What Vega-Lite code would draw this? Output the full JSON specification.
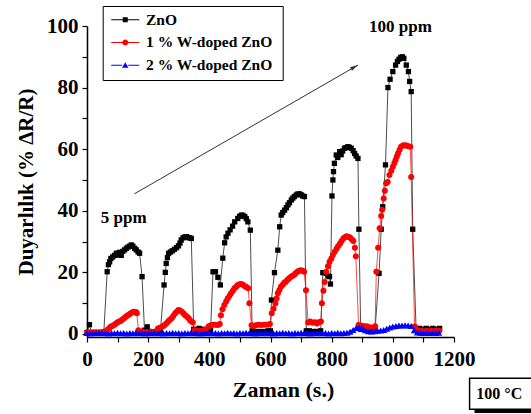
{
"$schema":"https://vega.github.io/schema/vega-lite/v6.json",
"width":367,"height":311,
"autosize":{"type":"none"},
"padding":{"left":87,"top":26,"right":77,"bottom":77},
"background":"white",
"config":{"view":{"stroke":null},"font":"Liberation Serif"},
"datasets":{
"shadows":[{"x":65,"x2":641,"y":105.2,"y2":82.5},{"x":1267,"x2":1500,"y":-16,"y2":-25.7}],
"boxes":[{"x":1251,"x2":1500,"y":-14.4,"y2":-24.5}],
"arrow":[{"x":155,"y":45.5,"x2":886,"y2":87.3}],
"arrowhead":[{"x":886,"y":87.3}],
"labels":[{"x":922,"y":99.8,"label":"100 ppm"},{"x":45,"y":37.6,"label":"5 ppm"}],
"temp":[{"x":1273,"y":-19.6,"label":"100 °C"}],
"legendkeys":[{"x":0,"y":0,"k":"ZnO"},{"x":0,"y":0,"k":"1  % W-doped ZnO"},{"x":0,"y":0,"k":"2  % W-doped ZnO"}],
"main":[
{"x":0,"y":0.5,"s":"ZnO"},{"x":8,"y":3,"s":"ZnO"},{"x":15,"y":0.5,"s":"ZnO"},{"x":25,"y":0.5,"s":"ZnO"},{"x":35,"y":0.5,"s":"ZnO"},{"x":45,"y":0.5,"s":"ZnO"},{"x":55,"y":0.6,"s":"ZnO"},
{"x":66,"y":20.2,"s":"ZnO"},{"x":70,"y":22.5,"s":"ZnO"},{"x":74,"y":23.4,"s":"ZnO"},{"x":78,"y":24.5,"s":"ZnO"},{"x":84,"y":25,"s":"ZnO"},{"x":90,"y":25.5,"s":"ZnO"},{"x":96,"y":26.2,"s":"ZnO"},{"x":101,"y":25.6,"s":"ZnO"},{"x":106,"y":26.5,"s":"ZnO"},{"x":112,"y":25.5,"s":"ZnO"},{"x":117,"y":26.8,"s":"ZnO"},{"x":123,"y":27.3,"s":"ZnO"},{"x":129,"y":27.8,"s":"ZnO"},{"x":134,"y":28.2,"s":"ZnO"},{"x":140,"y":28.5,"s":"ZnO"},{"x":145,"y":28.9,"s":"ZnO"},{"x":150,"y":28.5,"s":"ZnO"},{"x":156,"y":27.8,"s":"ZnO"},{"x":161,"y":27.3,"s":"ZnO"},{"x":167,"y":26.6,"s":"ZnO"},{"x":172,"y":26.2,"s":"ZnO"},{"x":180,"y":18.6,"s":"ZnO"},{"x":188,"y":1.2,"s":"ZnO"},{"x":197,"y":2.3,"s":"ZnO"},{"x":205,"y":0.8,"s":"ZnO"},{"x":215,"y":0.6,"s":"ZnO"},{"x":228,"y":0.6,"s":"ZnO"},{"x":240,"y":0.8,"s":"ZnO"},
{"x":252,"y":15.9,"s":"ZnO"},{"x":256,"y":20,"s":"ZnO"},{"x":259,"y":22.9,"s":"ZnO"},{"x":263,"y":24.8,"s":"ZnO"},{"x":267,"y":26.2,"s":"ZnO"},{"x":273,"y":26.6,"s":"ZnO"},{"x":279,"y":27,"s":"ZnO"},{"x":286,"y":27.5,"s":"ZnO"},{"x":293,"y":28,"s":"ZnO"},{"x":299,"y":28.6,"s":"ZnO"},{"x":304,"y":29.5,"s":"ZnO"},{"x":308,"y":30.5,"s":"ZnO"},{"x":314,"y":31.2,"s":"ZnO"},{"x":320,"y":31.5,"s":"ZnO"},{"x":325,"y":31.6,"s":"ZnO"},{"x":331,"y":31.3,"s":"ZnO"},{"x":336,"y":31.2,"s":"ZnO"},{"x":341,"y":31,"s":"ZnO"},{"x":349,"y":1.5,"s":"ZnO"},{"x":358,"y":1.2,"s":"ZnO"},{"x":366,"y":1.8,"s":"ZnO"},{"x":375,"y":1.5,"s":"ZnO"},{"x":385,"y":1,"s":"ZnO"},{"x":395,"y":1,"s":"ZnO"},{"x":404,"y":1.2,"s":"ZnO"},
{"x":412,"y":20.2,"s":"ZnO"},{"x":420,"y":20.2,"s":"ZnO"},{"x":428,"y":18.4,"s":"ZnO"},{"x":436,"y":15.9,"s":"ZnO"},{"x":444,"y":24.6,"s":"ZnO"},{"x":450,"y":29.6,"s":"ZnO"},{"x":455,"y":31.5,"s":"ZnO"},{"x":461,"y":32.7,"s":"ZnO"},{"x":468,"y":33.8,"s":"ZnO"},{"x":476,"y":35,"s":"ZnO"},{"x":483,"y":36.4,"s":"ZnO"},{"x":493,"y":37.5,"s":"ZnO"},{"x":499,"y":38.2,"s":"ZnO"},{"x":505,"y":38.6,"s":"ZnO"},{"x":510,"y":38.5,"s":"ZnO"},{"x":516,"y":38.1,"s":"ZnO"},{"x":521,"y":37.4,"s":"ZnO"},{"x":526,"y":36.4,"s":"ZnO"},{"x":534,"y":33.7,"s":"ZnO"},{"x":540,"y":1,"s":"ZnO"},{"x":550,"y":0.8,"s":"ZnO"},{"x":565,"y":0.8,"s":"ZnO"},{"x":580,"y":0.8,"s":"ZnO"},{"x":592,"y":1,"s":"ZnO"},{"x":600,"y":1,"s":"ZnO"},
{"x":603,"y":11,"s":"ZnO"},{"x":613,"y":19.9,"s":"ZnO"},{"x":624,"y":27.2,"s":"ZnO"},{"x":630,"y":34.8,"s":"ZnO"},{"x":635,"y":38.6,"s":"ZnO"},{"x":640,"y":39.4,"s":"ZnO"},{"x":646,"y":40.2,"s":"ZnO"},{"x":652,"y":41,"s":"ZnO"},{"x":657,"y":41.9,"s":"ZnO"},{"x":662,"y":42.6,"s":"ZnO"},{"x":668,"y":43.5,"s":"ZnO"},{"x":673,"y":44.1,"s":"ZnO"},{"x":678,"y":44.6,"s":"ZnO"},{"x":684,"y":45.1,"s":"ZnO"},{"x":689,"y":45.4,"s":"ZnO"},{"x":694,"y":45.5,"s":"ZnO"},{"x":700,"y":45.2,"s":"ZnO"},{"x":705,"y":44.8,"s":"ZnO"},{"x":711,"y":44.6,"s":"ZnO"},{"x":717,"y":1,"s":"ZnO"},{"x":727,"y":1,"s":"ZnO"},{"x":740,"y":0.8,"s":"ZnO"},{"x":752,"y":0.8,"s":"ZnO"},{"x":764,"y":1,"s":"ZnO"},
{"x":771,"y":19.9,"s":"ZnO"},{"x":782,"y":19.7,"s":"ZnO"},{"x":788,"y":18.8,"s":"ZnO"},{"x":793,"y":18.6,"s":"ZnO"},{"x":796,"y":16.2,"s":"ZnO"},{"x":801,"y":44.8,"s":"ZnO"},{"x":804,"y":50,"s":"ZnO"},{"x":806,"y":52.7,"s":"ZnO"},{"x":809,"y":55.4,"s":"ZnO"},{"x":815,"y":58.1,"s":"ZnO"},{"x":820,"y":57.3,"s":"ZnO"},{"x":826,"y":59.2,"s":"ZnO"},{"x":831,"y":58.2,"s":"ZnO"},{"x":836,"y":59.4,"s":"ZnO"},{"x":842,"y":60.3,"s":"ZnO"},{"x":847,"y":60.5,"s":"ZnO"},{"x":853,"y":60.8,"s":"ZnO"},{"x":858,"y":60.6,"s":"ZnO"},{"x":864,"y":60.3,"s":"ZnO"},{"x":870,"y":59.5,"s":"ZnO"},{"x":875,"y":58.6,"s":"ZnO"},{"x":880,"y":57.8,"s":"ZnO"},{"x":886,"y":57,"s":"ZnO"},{"x":889,"y":34,"s":"ZnO"},{"x":895,"y":1.5,"s":"ZnO"},{"x":905,"y":1.5,"s":"ZnO"},{"x":915,"y":1.2,"s":"ZnO"},{"x":930,"y":1.2,"s":"ZnO"},{"x":942,"y":1.5,"s":"ZnO"},
{"x":955,"y":19.7,"s":"ZnO"},{"x":962,"y":34,"s":"ZnO"},{"x":967,"y":41.3,"s":"ZnO"},{"x":976,"y":54.9,"s":"ZnO"},{"x":984,"y":80,"s":"ZnO"},{"x":991,"y":82.7,"s":"ZnO"},{"x":1000,"y":85.2,"s":"ZnO"},{"x":1009,"y":87.3,"s":"ZnO"},{"x":1015,"y":88.5,"s":"ZnO"},{"x":1020,"y":89.2,"s":"ZnO"},{"x":1026,"y":89.8,"s":"ZnO"},{"x":1031,"y":90,"s":"ZnO"},{"x":1036,"y":89.5,"s":"ZnO"},{"x":1044,"y":87.3,"s":"ZnO"},{"x":1051,"y":85.2,"s":"ZnO"},{"x":1055,"y":82,"s":"ZnO"},{"x":1060,"y":78.7,"s":"ZnO"},{"x":1065,"y":34,"s":"ZnO"},{"x":1076,"y":1.8,"s":"ZnO"},{"x":1087,"y":1.8,"s":"ZnO"},{"x":1098,"y":1.5,"s":"ZnO"},{"x":1109,"y":1.8,"s":"ZnO"},{"x":1120,"y":1.5,"s":"ZnO"},{"x":1131,"y":1.8,"s":"ZnO"},{"x":1142,"y":1.5,"s":"ZnO"},{"x":1153,"y":1.8,"s":"ZnO"},
{"x":0,"y":0.5,"s":"1  % W-doped ZnO"},{"x":15,"y":0.4,"s":"1  % W-doped ZnO"},{"x":30,"y":0.5,"s":"1  % W-doped ZnO"},{"x":45,"y":0.5,"s":"1  % W-doped ZnO"},{"x":58,"y":0.8,"s":"1  % W-doped ZnO"},
{"x":66,"y":1.3,"s":"1  % W-doped ZnO"},{"x":72,"y":1.8,"s":"1  % W-doped ZnO"},{"x":77,"y":2.3,"s":"1  % W-doped ZnO"},{"x":83,"y":2.6,"s":"1  % W-doped ZnO"},{"x":88,"y":2.9,"s":"1  % W-doped ZnO"},{"x":94,"y":3.3,"s":"1  % W-doped ZnO"},{"x":99,"y":3.7,"s":"1  % W-doped ZnO"},{"x":105,"y":4,"s":"1  % W-doped ZnO"},{"x":110,"y":4.2,"s":"1  % W-doped ZnO"},{"x":116,"y":4.7,"s":"1  % W-doped ZnO"},{"x":121,"y":5.1,"s":"1  % W-doped ZnO"},{"x":127,"y":5.6,"s":"1  % W-doped ZnO"},{"x":132,"y":6,"s":"1  % W-doped ZnO"},{"x":138,"y":6.3,"s":"1  % W-doped ZnO"},{"x":143,"y":6.7,"s":"1  % W-doped ZnO"},{"x":149,"y":7,"s":"1  % W-doped ZnO"},{"x":154,"y":7.2,"s":"1  % W-doped ZnO"},{"x":160,"y":7.1,"s":"1  % W-doped ZnO"},{"x":163,"y":6.7,"s":"1  % W-doped ZnO"},{"x":168,"y":1.2,"s":"1  % W-doped ZnO"},{"x":180,"y":0.8,"s":"1  % W-doped ZnO"},{"x":195,"y":0.6,"s":"1  % W-doped ZnO"},{"x":210,"y":0.6,"s":"1  % W-doped ZnO"},{"x":222,"y":0.8,"s":"1  % W-doped ZnO"},
{"x":232,"y":1.8,"s":"1  % W-doped ZnO"},{"x":238,"y":2,"s":"1  % W-doped ZnO"},{"x":243,"y":2.2,"s":"1  % W-doped ZnO"},{"x":248,"y":2.5,"s":"1  % W-doped ZnO"},{"x":254,"y":2.9,"s":"1  % W-doped ZnO"},{"x":260,"y":3.5,"s":"1  % W-doped ZnO"},{"x":266,"y":4.1,"s":"1  % W-doped ZnO"},{"x":271,"y":4.6,"s":"1  % W-doped ZnO"},{"x":277,"y":5.1,"s":"1  % W-doped ZnO"},{"x":282,"y":5.8,"s":"1  % W-doped ZnO"},{"x":288,"y":6.6,"s":"1  % W-doped ZnO"},{"x":293,"y":7.2,"s":"1  % W-doped ZnO"},{"x":299,"y":7.8,"s":"1  % W-doped ZnO"},{"x":304,"y":7.6,"s":"1  % W-doped ZnO"},{"x":310,"y":7.2,"s":"1  % W-doped ZnO"},{"x":316,"y":6.6,"s":"1  % W-doped ZnO"},{"x":321,"y":6.1,"s":"1  % W-doped ZnO"},{"x":327,"y":5.6,"s":"1  % W-doped ZnO"},{"x":333,"y":5,"s":"1  % W-doped ZnO"},{"x":338,"y":4.3,"s":"1  % W-doped ZnO"},{"x":346,"y":3.7,"s":"1  % W-doped ZnO"},{"x":352,"y":1.2,"s":"1  % W-doped ZnO"},{"x":362,"y":1,"s":"1  % W-doped ZnO"},{"x":375,"y":1,"s":"1  % W-doped ZnO"},{"x":388,"y":1.5,"s":"1  % W-doped ZnO"},{"x":398,"y":2.5,"s":"1  % W-doped ZnO"},{"x":405,"y":2.8,"s":"1  % W-doped ZnO"},{"x":412,"y":3,"s":"1  % W-doped ZnO"},{"x":420,"y":3,"s":"1  % W-doped ZnO"},{"x":428,"y":2.9,"s":"1  % W-doped ZnO"},{"x":434,"y":3.2,"s":"1  % W-doped ZnO"},
{"x":438,"y":6.1,"s":"1  % W-doped ZnO"},{"x":443,"y":8,"s":"1  % W-doped ZnO"},{"x":449,"y":9.4,"s":"1  % W-doped ZnO"},{"x":455,"y":10.5,"s":"1  % W-doped ZnO"},{"x":460,"y":11.5,"s":"1  % W-doped ZnO"},{"x":466,"y":12.4,"s":"1  % W-doped ZnO"},{"x":471,"y":13.2,"s":"1  % W-doped ZnO"},{"x":477,"y":14,"s":"1  % W-doped ZnO"},{"x":482,"y":14.8,"s":"1  % W-doped ZnO"},{"x":488,"y":15.3,"s":"1  % W-doped ZnO"},{"x":493,"y":15.9,"s":"1  % W-doped ZnO"},{"x":499,"y":16.1,"s":"1  % W-doped ZnO"},{"x":504,"y":16.2,"s":"1  % W-doped ZnO"},{"x":510,"y":16,"s":"1  % W-doped ZnO"},{"x":516,"y":15.5,"s":"1  % W-doped ZnO"},{"x":521,"y":15.2,"s":"1  % W-doped ZnO"},{"x":527,"y":14.8,"s":"1  % W-doped ZnO"},{"x":531,"y":10,"s":"1  % W-doped ZnO"},{"x":538,"y":2.8,"s":"1  % W-doped ZnO"},{"x":545,"y":2.6,"s":"1  % W-doped ZnO"},{"x":552,"y":2.8,"s":"1  % W-doped ZnO"},{"x":560,"y":3,"s":"1  % W-doped ZnO"},{"x":570,"y":2.9,"s":"1  % W-doped ZnO"},{"x":580,"y":3,"s":"1  % W-doped ZnO"},{"x":590,"y":3,"s":"1  % W-doped ZnO"},{"x":598,"y":3.2,"s":"1  % W-doped ZnO"},
{"x":604,"y":6.7,"s":"1  % W-doped ZnO"},{"x":610,"y":8.2,"s":"1  % W-doped ZnO"},{"x":616,"y":9.9,"s":"1  % W-doped ZnO"},{"x":620,"y":11.5,"s":"1  % W-doped ZnO"},{"x":624,"y":13.2,"s":"1  % W-doped ZnO"},{"x":629,"y":14.3,"s":"1  % W-doped ZnO"},{"x":634,"y":15.3,"s":"1  % W-doped ZnO"},{"x":640,"y":16,"s":"1  % W-doped ZnO"},{"x":645,"y":16.6,"s":"1  % W-doped ZnO"},{"x":649,"y":16.9,"s":"1  % W-doped ZnO"},{"x":655,"y":17.5,"s":"1  % W-doped ZnO"},{"x":660,"y":18,"s":"1  % W-doped ZnO"},{"x":666,"y":18.5,"s":"1  % W-doped ZnO"},{"x":671,"y":18.8,"s":"1  % W-doped ZnO"},{"x":677,"y":19.1,"s":"1  % W-doped ZnO"},{"x":682,"y":19.7,"s":"1  % W-doped ZnO"},{"x":688,"y":20.2,"s":"1  % W-doped ZnO"},{"x":693,"y":20.5,"s":"1  % W-doped ZnO"},{"x":699,"y":20.7,"s":"1  % W-doped ZnO"},{"x":705,"y":20.5,"s":"1  % W-doped ZnO"},{"x":710,"y":20.2,"s":"1  % W-doped ZnO"},{"x":716,"y":14.2,"s":"1  % W-doped ZnO"},{"x":723,"y":3.7,"s":"1  % W-doped ZnO"},{"x":730,"y":4,"s":"1  % W-doped ZnO"},{"x":738,"y":3.6,"s":"1  % W-doped ZnO"},{"x":745,"y":3.8,"s":"1  % W-doped ZnO"},{"x":752,"y":3.4,"s":"1  % W-doped ZnO"},{"x":758,"y":3.8,"s":"1  % W-doped ZnO"},{"x":765,"y":4,"s":"1  % W-doped ZnO"},
{"x":768,"y":10,"s":"1  % W-doped ZnO"},{"x":773,"y":14,"s":"1  % W-doped ZnO"},{"x":777,"y":16.9,"s":"1  % W-doped ZnO"},{"x":782,"y":20.2,"s":"1  % W-doped ZnO"},{"x":788,"y":22,"s":"1  % W-doped ZnO"},{"x":793,"y":23.4,"s":"1  % W-doped ZnO"},{"x":799,"y":24.5,"s":"1  % W-doped ZnO"},{"x":804,"y":25.6,"s":"1  % W-doped ZnO"},{"x":810,"y":26.7,"s":"1  % W-doped ZnO"},{"x":816,"y":27.7,"s":"1  % W-doped ZnO"},{"x":821,"y":28.5,"s":"1  % W-doped ZnO"},{"x":827,"y":29.3,"s":"1  % W-doped ZnO"},{"x":832,"y":30.1,"s":"1  % W-doped ZnO"},{"x":838,"y":31,"s":"1  % W-doped ZnO"},{"x":843,"y":31.4,"s":"1  % W-doped ZnO"},{"x":849,"y":31.7,"s":"1  % W-doped ZnO"},{"x":855,"y":31.5,"s":"1  % W-doped ZnO"},{"x":860,"y":31.3,"s":"1  % W-doped ZnO"},{"x":866,"y":30.7,"s":"1  % W-doped ZnO"},{"x":871,"y":30.2,"s":"1  % W-doped ZnO"},{"x":876,"y":28,"s":"1  % W-doped ZnO"},{"x":879,"y":25.2,"s":"1  % W-doped ZnO"},{"x":888,"y":2.9,"s":"1  % W-doped ZnO"},{"x":895,"y":2.7,"s":"1  % W-doped ZnO"},{"x":905,"y":2.6,"s":"1  % W-doped ZnO"},{"x":915,"y":2.5,"s":"1  % W-doped ZnO"},{"x":925,"y":2.2,"s":"1  % W-doped ZnO"},{"x":935,"y":2,"s":"1  % W-doped ZnO"},{"x":942,"y":2.5,"s":"1  % W-doped ZnO"},
{"x":946,"y":20.2,"s":"1  % W-doped ZnO"},{"x":952,"y":28,"s":"1  % W-doped ZnO"},{"x":957,"y":34.3,"s":"1  % W-doped ZnO"},{"x":962,"y":38.3,"s":"1  % W-doped ZnO"},{"x":965,"y":40.3,"s":"1  % W-doped ZnO"},{"x":970,"y":44,"s":"1  % W-doped ZnO"},{"x":974,"y":46.5,"s":"1  % W-doped ZnO"},{"x":978,"y":48.9,"s":"1  % W-doped ZnO"},{"x":983,"y":49.3,"s":"1  % W-doped ZnO"},{"x":989,"y":51.6,"s":"1  % W-doped ZnO"},{"x":995,"y":53,"s":"1  % W-doped ZnO"},{"x":1000,"y":54.3,"s":"1  % W-doped ZnO"},{"x":1005,"y":55.5,"s":"1  % W-doped ZnO"},{"x":1009,"y":56.5,"s":"1  % W-doped ZnO"},{"x":1013,"y":57.6,"s":"1  % W-doped ZnO"},{"x":1017,"y":58.7,"s":"1  % W-doped ZnO"},{"x":1022,"y":59.8,"s":"1  % W-doped ZnO"},{"x":1027,"y":60.8,"s":"1  % W-doped ZnO"},{"x":1033,"y":61.2,"s":"1  % W-doped ZnO"},{"x":1038,"y":61.3,"s":"1  % W-doped ZnO"},{"x":1044,"y":61.2,"s":"1  % W-doped ZnO"},{"x":1049,"y":61,"s":"1  % W-doped ZnO"},{"x":1057,"y":60.8,"s":"1  % W-doped ZnO"},{"x":1060,"y":51,"s":"1  % W-doped ZnO"},{"x":1071,"y":2.4,"s":"1  % W-doped ZnO"},{"x":1082,"y":1.2,"s":"1  % W-doped ZnO"},{"x":1095,"y":1,"s":"1  % W-doped ZnO"},{"x":1110,"y":1,"s":"1  % W-doped ZnO"},{"x":1125,"y":1,"s":"1  % W-doped ZnO"},{"x":1140,"y":1,"s":"1  % W-doped ZnO"},{"x":1152,"y":1,"s":"1  % W-doped ZnO"},
{"x":0,"y":0.3,"s":"2  % W-doped ZnO"},{"x":10,"y":0.1,"s":"2  % W-doped ZnO"},{"x":20,"y":0.3,"s":"2  % W-doped ZnO"},{"x":30,"y":0.2,"s":"2  % W-doped ZnO"},{"x":40,"y":0.4,"s":"2  % W-doped ZnO"},{"x":50,"y":0.2,"s":"2  % W-doped ZnO"},{"x":60,"y":0.3,"s":"2  % W-doped ZnO"},{"x":70,"y":0.1,"s":"2  % W-doped ZnO"},{"x":80,"y":0.3,"s":"2  % W-doped ZnO"},{"x":90,"y":0.2,"s":"2  % W-doped ZnO"},{"x":100,"y":0.4,"s":"2  % W-doped ZnO"},{"x":110,"y":0.2,"s":"2  % W-doped ZnO"},{"x":120,"y":0.3,"s":"2  % W-doped ZnO"},{"x":130,"y":0.1,"s":"2  % W-doped ZnO"},{"x":140,"y":0.3,"s":"2  % W-doped ZnO"},{"x":150,"y":0.2,"s":"2  % W-doped ZnO"},{"x":160,"y":0.4,"s":"2  % W-doped ZnO"},{"x":170,"y":0.2,"s":"2  % W-doped ZnO"},{"x":180,"y":0.3,"s":"2  % W-doped ZnO"},{"x":190,"y":0.1,"s":"2  % W-doped ZnO"},{"x":200,"y":0.3,"s":"2  % W-doped ZnO"},{"x":210,"y":0.2,"s":"2  % W-doped ZnO"},{"x":220,"y":0.4,"s":"2  % W-doped ZnO"},{"x":230,"y":0.2,"s":"2  % W-doped ZnO"},{"x":240,"y":0.3,"s":"2  % W-doped ZnO"},{"x":250,"y":0.1,"s":"2  % W-doped ZnO"},{"x":260,"y":0.3,"s":"2  % W-doped ZnO"},{"x":270,"y":0.2,"s":"2  % W-doped ZnO"},{"x":280,"y":0.4,"s":"2  % W-doped ZnO"},{"x":290,"y":0.2,"s":"2  % W-doped ZnO"},{"x":300,"y":0.3,"s":"2  % W-doped ZnO"},{"x":310,"y":0.1,"s":"2  % W-doped ZnO"},{"x":320,"y":0.3,"s":"2  % W-doped ZnO"},{"x":330,"y":0.2,"s":"2  % W-doped ZnO"},{"x":340,"y":0.4,"s":"2  % W-doped ZnO"},{"x":350,"y":0.2,"s":"2  % W-doped ZnO"},{"x":360,"y":0.3,"s":"2  % W-doped ZnO"},{"x":370,"y":0.1,"s":"2  % W-doped ZnO"},{"x":380,"y":0.3,"s":"2  % W-doped ZnO"},{"x":390,"y":0.2,"s":"2  % W-doped ZnO"},{"x":400,"y":0.4,"s":"2  % W-doped ZnO"},{"x":410,"y":0.2,"s":"2  % W-doped ZnO"},{"x":420,"y":0.3,"s":"2  % W-doped ZnO"},{"x":430,"y":0.1,"s":"2  % W-doped ZnO"},{"x":440,"y":0.3,"s":"2  % W-doped ZnO"},{"x":450,"y":0.2,"s":"2  % W-doped ZnO"},{"x":460,"y":0.4,"s":"2  % W-doped ZnO"},{"x":470,"y":0.2,"s":"2  % W-doped ZnO"},{"x":480,"y":0.3,"s":"2  % W-doped ZnO"},{"x":490,"y":0.1,"s":"2  % W-doped ZnO"},{"x":500,"y":0.3,"s":"2  % W-doped ZnO"},{"x":510,"y":0.2,"s":"2  % W-doped ZnO"},{"x":520,"y":0.4,"s":"2  % W-doped ZnO"},{"x":530,"y":0.2,"s":"2  % W-doped ZnO"},{"x":540,"y":0.3,"s":"2  % W-doped ZnO"},{"x":550,"y":0.1,"s":"2  % W-doped ZnO"},{"x":560,"y":0.3,"s":"2  % W-doped ZnO"},{"x":570,"y":0.2,"s":"2  % W-doped ZnO"},{"x":580,"y":0.4,"s":"2  % W-doped ZnO"},{"x":590,"y":0.2,"s":"2  % W-doped ZnO"},{"x":600,"y":0.3,"s":"2  % W-doped ZnO"},{"x":610,"y":0.1,"s":"2  % W-doped ZnO"},{"x":620,"y":0.3,"s":"2  % W-doped ZnO"},{"x":630,"y":0.2,"s":"2  % W-doped ZnO"},{"x":640,"y":0.4,"s":"2  % W-doped ZnO"},{"x":650,"y":0.2,"s":"2  % W-doped ZnO"},{"x":660,"y":0.3,"s":"2  % W-doped ZnO"},{"x":670,"y":0.1,"s":"2  % W-doped ZnO"},{"x":680,"y":0.3,"s":"2  % W-doped ZnO"},{"x":690,"y":0.2,"s":"2  % W-doped ZnO"},{"x":700,"y":0.4,"s":"2  % W-doped ZnO"},{"x":710,"y":0.2,"s":"2  % W-doped ZnO"},{"x":720,"y":0.3,"s":"2  % W-doped ZnO"},{"x":730,"y":0.1,"s":"2  % W-doped ZnO"},{"x":740,"y":0.3,"s":"2  % W-doped ZnO"},{"x":750,"y":0.2,"s":"2  % W-doped ZnO"},{"x":760,"y":0.4,"s":"2  % W-doped ZnO"},{"x":770,"y":0.2,"s":"2  % W-doped ZnO"},{"x":780,"y":0.3,"s":"2  % W-doped ZnO"},{"x":790,"y":0.1,"s":"2  % W-doped ZnO"},{"x":800,"y":0.3,"s":"2  % W-doped ZnO"},{"x":810,"y":0.2,"s":"2  % W-doped ZnO"},{"x":820,"y":0.4,"s":"2  % W-doped ZnO"},{"x":830,"y":0.2,"s":"2  % W-doped ZnO"},{"x":840,"y":0.3,"s":"2  % W-doped ZnO"},{"x":850,"y":0.4,"s":"2  % W-doped ZnO"},{"x":860,"y":0.7,"s":"2  % W-doped ZnO"},{"x":870,"y":1.3,"s":"2  % W-doped ZnO"},{"x":880,"y":1.9,"s":"2  % W-doped ZnO"},{"x":890,"y":2.2,"s":"2  % W-doped ZnO"},{"x":900,"y":1.9,"s":"2  % W-doped ZnO"},{"x":910,"y":1.2,"s":"2  % W-doped ZnO"},{"x":920,"y":0.9,"s":"2  % W-doped ZnO"},{"x":930,"y":0.8,"s":"2  % W-doped ZnO"},{"x":940,"y":0.9,"s":"2  % W-doped ZnO"},{"x":950,"y":1,"s":"2  % W-doped ZnO"},{"x":960,"y":1.1,"s":"2  % W-doped ZnO"},{"x":970,"y":1.3,"s":"2  % W-doped ZnO"},{"x":980,"y":1.7,"s":"2  % W-doped ZnO"},{"x":990,"y":2.1,"s":"2  % W-doped ZnO"},{"x":1000,"y":2.4,"s":"2  % W-doped ZnO"},{"x":1010,"y":2.6,"s":"2  % W-doped ZnO"},{"x":1020,"y":2.7,"s":"2  % W-doped ZnO"},{"x":1030,"y":2.7,"s":"2  % W-doped ZnO"},{"x":1040,"y":2.8,"s":"2  % W-doped ZnO"},{"x":1050,"y":2.7,"s":"2  % W-doped ZnO"},{"x":1060,"y":2.6,"s":"2  % W-doped ZnO"},{"x":1070,"y":1.2,"s":"2  % W-doped ZnO"},{"x":1080,"y":0.5,"s":"2  % W-doped ZnO"},{"x":1090,"y":0.4,"s":"2  % W-doped ZnO"},{"x":1100,"y":0.3,"s":"2  % W-doped ZnO"},{"x":1110,"y":0.4,"s":"2  % W-doped ZnO"},{"x":1120,"y":0.3,"s":"2  % W-doped ZnO"},{"x":1130,"y":0.4,"s":"2  % W-doped ZnO"},{"x":1140,"y":0.3,"s":"2  % W-doped ZnO"},{"x":1150,"y":0.4,"s":"2  % W-doped ZnO"}
]
},
"encoding":{
"x":{"field":"x","type":"quantitative","scale":{"domain":[0,1200],"nice":false,"zero":false},
"axis":{"values":[0,100,200,300,400,500,600,700,800,900,1000,1100,1200],"format":"d","labelExpr":"datum.value % 200 === 0 ? datum.label : ''","labelFlush":false,"labelOverlap":false,"grid":false,"domainColor":"black","domainWidth":1.5,"tickColor":"black","tickWidth":1.2,"tickSize":5,"labelFont":"Liberation Serif","labelFontWeight":"bold","labelFontSize":21,"labelColor":"black","labelPadding":6,"title":"Zaman (s.)","titleFont":"Liberation Serif","titleFontWeight":"bold","titleFontSize":22,"titleColor":"black","titleX":196,"titleY":42,"titleBaseline":"top"}},
"y":{"field":"y","type":"quantitative","scale":{"domain":[-1,100],"nice":false,"zero":false},
"axis":{"values":[0,10,20,30,40,50,60,70,80,90,100],"format":"d","labelExpr":"datum.value % 20 === 0 ? datum.label : ''","labelOverlap":false,"grid":false,"domainColor":"black","domainWidth":1.5,"tickColor":"black","tickWidth":1.2,"tickSize":5,"labelFont":"Liberation Serif","labelFontWeight":"bold","labelFontSize":21,"labelColor":"black","labelPadding":4,"title":"Duyarlılık (% ΔR/R)","titleFont":"Liberation Serif","titleFontWeight":"bold","titleFontSize":21,"titleColor":"black","titlePadding":10}}
},
"layer":[
{"data":{"name":"shadows"},"mark":{"type":"rect","fill":"black"},"encoding":{"x2":{"field":"x2"},"y2":{"field":"y2"}}},
{"data":{"name":"boxes"},"mark":{"type":"rect","fill":"white","stroke":"black","strokeWidth":1.5},"encoding":{"x2":{"field":"x2"},"y2":{"field":"y2"}}},
{"data":{"name":"arrow"},"mark":{"type":"rule","color":"#333333","strokeWidth":1},"encoding":{"x2":{"field":"x2"},"y2":{"field":"y2"}}},
{"data":{"name":"arrowhead"},"mark":{"type":"point","shape":"M0,0L-2,-0.5L-2,0.5Z","filled":true,"color":"#333333","opacity":1,"size":64,"angle":-30}},
{"data":{"name":"labels"},"mark":{"type":"text","font":"Liberation Serif","fontWeight":"bold","fontSize":17,"align":"left","baseline":"middle","color":"black"},"encoding":{"text":{"field":"label"}}},
{"data":{"name":"temp"},"mark":{"type":"text","font":"Liberation Serif","fontWeight":"bold","fontSize":16,"align":"left","baseline":"middle","color":"black"},"encoding":{"text":{"field":"label"}}},
{"data":{"name":"main"},"transform":[{"filter":"datum.s === 'ZnO'"}],"mark":{"type":"line","strokeWidth":1,"color":"#000000","opacity":0.7}},
{"data":{"name":"main"},"transform":[{"filter":"datum.s === '1  % W-doped ZnO'"}],"mark":{"type":"line","strokeWidth":1,"color":"#ff0000","opacity":0.7}},
{"data":{"name":"main"},"transform":[{"filter":"datum.s === '2  % W-doped ZnO'"}],"mark":{"type":"line","strokeWidth":1,"color":"#0000ff","opacity":0.8}},
{"data":{"name":"main"},"transform":[{"filter":"datum.s === 'ZnO'"}],"mark":{"type":"point","filled":true,"opacity":1,"shape":"square","size":28,"color":"#000000"}},
{"data":{"name":"main"},"transform":[{"filter":"datum.s === '1  % W-doped ZnO'"}],"mark":{"type":"point","filled":true,"opacity":1,"shape":"circle","size":36,"color":"#ff0000"}},
{"data":{"name":"main"},"transform":[{"filter":"datum.s === '2  % W-doped ZnO'"}],"mark":{"type":"point","filled":true,"opacity":1,"shape":"triangle-up","size":48,"color":"#0000ff"}},
{"data":{"name":"legendkeys"},"mark":{"type":"point","filled":true,"opacity":0},"encoding":{
"color":{"field":"k","type":"nominal","sort":null,"scale":{"domain":["ZnO","1  % W-doped ZnO","2  % W-doped ZnO"],"range":["#000000","#ff0000","#0000ff"]},
"legend":{"orient":"none","legendX":15.7,"legendY":-20,"title":null,"padding":6,"rowPadding":5.7,"symbolOffset":8.8,"labelOffset":13,"symbolSize":100,"symbolOpacity":1,"symbolStrokeWidth":0,"labelFont":"Liberation Serif","labelFontWeight":"bold","labelFontSize":15.5,"labelColor":"black","labelLimit":300,"strokeColor":"black","fillColor":"white"}},
"shape":{"field":"k","type":"nominal","sort":null,"scale":{"domain":["ZnO","1  % W-doped ZnO","2  % W-doped ZnO"],"range":["M-2.8,-0.1H-0.5V0.1H-2.8ZM0.5,-0.1H2.8V0.1H0.5ZM-0.5,-0.5H0.5V0.5H-0.5Z","M-2.8,-0.1H-0.55V0.1H-2.8ZM0.55,-0.1H2.8V0.1H0.55ZM0.6,0A0.6,0.6,0,1,1,-0.6,0A0.6,0.6,0,1,1,0.6,0Z","M-2.8,-0.1H-0.6V0.1H-2.8ZM0.6,-0.1H2.8V0.1H0.6ZM0,-0.6L0.65,0.5H-0.65Z"]},
"legend":{"orient":"none","legendX":15.7,"legendY":-20,"title":null,"padding":6,"rowPadding":5.7,"symbolOffset":8.8,"labelOffset":13,"symbolSize":100,"symbolOpacity":1,"symbolStrokeWidth":0,"labelFont":"Liberation Serif","labelFontWeight":"bold","labelFontSize":15.5,"labelColor":"black","labelLimit":300,"strokeColor":"black","fillColor":"white"}}
}}
]
}
